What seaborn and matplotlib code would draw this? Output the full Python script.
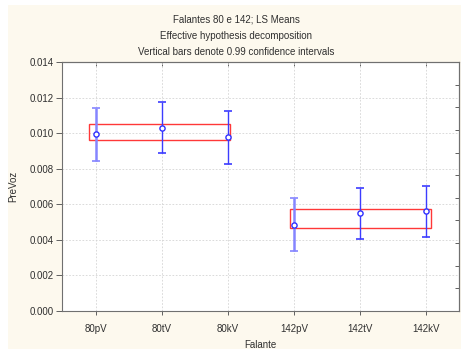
import matplotlib
matplotlib.use("Agg")
import matplotlib.pyplot as plt
import matplotlib.patches as mpatches
import numpy as np
import pandas as pd
import seaborn as sns

# ---- data ----
categories = ["80pV", "80tV", "80kV", "142pV", "142tV", "142kV"]
means = [0.00993, 0.01030, 0.00976, 0.00485, 0.00549, 0.00560]
ci_low = [0.00843, 0.00886, 0.00826, 0.00339, 0.00405, 0.00414]
ci_high = [0.01139, 0.01176, 0.01122, 0.00634, 0.00694, 0.00704]
# group boxes (low, high) for the 80 group and the 142 group
box_groups = [["80pV", "80tV", "80kV"], ["142pV", "142tV", "142kV"]]
box_low = [0.00960, 0.00465]
box_high = [0.01051, 0.00575]
yticks = [0.000, 0.002, 0.004, 0.006, 0.008, 0.010, 0.012, 0.014]

sns.set_theme(style="white")
plt.rcParams["font.family"] = ["Liberation Sans", "DejaVu Sans"]

W, H = 461, 349
fig = plt.figure(figsize=(W / 100, H / 100), dpi=100, facecolor="white")
cream = "#fdf9ee"
fig.patches.append(mpatches.Rectangle((8 / W, 0), 1 - 8 / W, 1 - 5 / H,
                                      transform=fig.transFigure, facecolor=cream,
                                      edgecolor="none", zorder=-10))

ax = fig.add_axes([62 / W, 1 - 311 / H, (459 - 62) / W, (311 - 62) / H])
ax.set_facecolor("white")

df = pd.DataFrame({"Falante": categories, "PreVoz": means,
                   "lo": ci_low, "hi": ci_high})
pos = np.arange(len(categories))

# red boxes
pads = [(0.10, 0.03), (0.06, 0.07)]
for grp, lo, hi, (pl, pr) in zip(box_groups, box_low, box_high, pads):
    i0 = categories.index(grp[0])
    i1 = categories.index(grp[-1])
    ax.add_patch(mpatches.Rectangle((i0 - pl, lo), (i1 + pr) - (i0 - pl), hi - lo,
                                    facecolor="none", edgecolor="#ff3838",
                                    linewidth=1.0, zorder=3))

# error bars
for i, (m, lo, hi) in enumerate(zip(means, ci_low, ci_high)):
    light = categories[i].endswith("pV")
    col = "#8585ff" if light else "#3c3cff"
    lw = 1.8 if light else 1.0
    ax.errorbar(pos[i], m, yerr=[[m - lo], [hi - m]], fmt="none", ecolor=col,
                elinewidth=lw, capsize=2.7, capthick=1.2, zorder=4)

sns.scatterplot(data=df, x="Falante", y="PreVoz", ax=ax, marker="o", s=14,
                facecolor="white", edgecolor="#3030ff", linewidth=1.0, zorder=5,
                legend=False)

ax.set_xlim(-0.515, 5.5)
ax.set_ylim(0, 0.014)
ax.set_yticks(yticks)
ax.set_yticklabels([f"{v:.3f}" for v in yticks])
ax.set_xticks(pos)
ax.set_xticklabels(categories)
ax.grid(True, color="#d4d4d4", linestyle=(0, (2, 2)), linewidth=0.6)
ax.set_axisbelow(True)

for s in ax.spines.values():
    s.set_color("#707070")
    s.set_linewidth(0.8)

ax.tick_params(axis="both", labelsize=7, colors="#606060", labelcolor="#303030")
ax.tick_params(axis="y", direction="out", length=4, width=0.7, left=True, pad=2)
ax.tick_params(axis="x", direction="out", length=3, width=0.7, bottom=True, pad=6)

# top ticks (inward) at category positions
axt = ax.secondary_xaxis("top")
axt.set_xticks(pos)
axt.set_xticklabels([])
axt.tick_params(direction="in", length=3, width=0.7, colors="#606060")
axt.spines["top"].set_color("#707070")
axt.spines["top"].set_linewidth(0.8)
# right ticks (inward)
axr = ax.secondary_yaxis("right")
axr.set_yticks([k * 0.014 / 11 for k in range(12)])
axr.set_yticklabels([])
axr.tick_params(direction="in", length=3, width=0.7, colors="#606060")
axr.spines["right"].set_color("#707070")
axr.spines["right"].set_linewidth(0.8)

ax.set_xlabel("Falante", fontsize=7, color="#303030", labelpad=5)
ax.set_ylabel("PreVoz", fontsize=7, color="#303030", labelpad=8)

cx = 236 / W
fig.text(cx, 1 - 20 / H, "Falantes 80 e 142; LS Means", ha="center", va="center",
         fontsize=7, color="#303030")
fig.text(cx, 1 - 36 / H, "Effective hypothesis decomposition", ha="center",
         va="center", fontsize=7, color="#303030")
fig.text(cx, 1 - 52 / H, "Vertical bars denote 0.99 confidence intervals",
         ha="center", va="center", fontsize=7, color="#303030")

fig.savefig("out.png", dpi=100, facecolor=fig.get_facecolor())
